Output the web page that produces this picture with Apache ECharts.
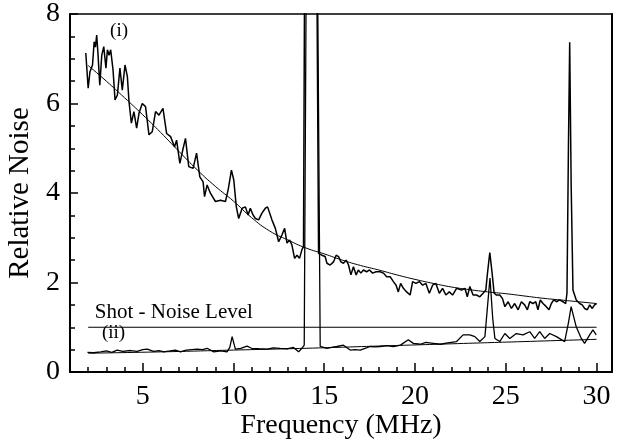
<!DOCTYPE html>
<html>
<head>
<meta charset="utf-8">
<script src="https://cdn.jsdelivr.net/npm/echarts@6/dist/echarts.min.js"></script>
<style>
  html, body { margin: 0; padding: 0; background: #fff; }
  #chart { width: 619px; height: 444px; }
</style>
</head>
<body>
<div id="chart"></div>
<script>
// trace (i): noise spectrum, upper curve
const freqI = [1.87, 2.0, 2.1, 2.24, 2.33, 2.4, 2.47, 2.54, 2.64, 2.75, 2.86, 2.98, 3.06, 3.15, 3.24, 3.37, 3.48, 3.61, 3.75, 3.88,
  4.03, 4.16, 4.25, 4.38, 4.52, 4.67, 4.8, 4.98, 5.16, 5.35, 5.53, 5.71, 5.9, 6.12, 6.32, 6.54, 6.76, 6.87, 7.05, 7.21,
  7.36, 7.54, 7.78, 7.97, 8.15, 8.33, 8.41, 8.55, 8.74, 9.01, 9.29, 9.56, 9.71, 9.89, 10.02, 10.16, 10.29, 10.48, 10.66, 10.81,
  10.93, 11.08, 11.21, 11.39, 11.57, 11.76, 11.88, 11.99, 12.12, 12.31, 12.49, 12.67, 12.82, 12.95, 13.09, 13.22, 13.37, 13.5, 13.64, 13.77,
  13.86, 13.95, 14.55, 14.69, 14.87, 15.05, 15.15, 15.33, 15.51, 15.66, 15.79, 15.92, 16.06, 16.21, 16.34, 16.47, 16.61, 16.76, 16.88, 17.02,
  17.16, 17.34, 17.49, 17.67, 17.86, 18.08, 18.26, 18.44, 18.63, 18.81, 18.96, 19.08, 19.21, 19.36, 19.54, 19.73, 19.87, 20.05, 20.24, 20.42,
  20.6, 20.79, 20.97, 21.15, 21.34, 21.52, 21.7, 21.89, 22.07, 22.29, 22.56, 22.75, 22.88, 23.02, 23.2, 23.39, 23.57, 23.75, 23.9, 23.99,
  24.12, 24.25, 24.36, 24.49, 24.67, 24.82, 24.95, 25.13, 25.31, 25.49, 25.68, 25.86, 26.04, 26.19, 26.32, 26.5, 26.65, 26.77, 26.9, 27.05,
  27.23, 27.38, 27.51, 27.64, 27.79, 27.97, 28.15, 28.3, 28.37, 28.45, 28.52, 28.6, 28.7, 28.88, 29.07, 29.21, 29.34, 29.49, 29.62, 29.76,
  29.89, 30.0];
const noiseI = [7.13, 6.34, 6.71, 6.86, 7.38, 7.26, 7.53, 7.12, 6.41, 7.08, 7.27, 6.79, 7.2, 7.08, 7.2, 6.75, 6.08, 6.19, 6.79, 6.3,
  6.86, 6.6, 6.04, 5.56, 5.82, 5.45, 5.78, 6.0, 5.93, 5.3, 5.37, 5.82, 5.74, 5.89, 5.33, 5.26, 5.03, 5.18, 4.66, 4.96,
  5.22, 4.59, 4.55, 4.89, 4.36, 4.25, 3.92, 4.18, 3.99, 3.81, 3.84, 3.81, 4.07, 4.51, 4.29, 3.69, 3.43, 3.66, 3.69, 3.51,
  3.66, 3.51, 3.43, 3.4, 3.55, 3.66, 3.69, 3.73, 3.4, 3.21, 2.91, 3.06, 3.21, 2.88, 2.95, 2.84, 2.54, 2.61, 2.54, 2.73,
  2.8, 12, 12, 2.65, 2.61, 2.58, 2.43, 2.39, 2.46, 2.61, 2.58, 2.46, 2.43, 2.5, 2.39, 2.17, 2.35, 2.17, 2.28, 2.21,
  2.28, 2.24, 2.28, 2.21, 2.24, 2.24, 2.21, 2.13, 2.13, 2.02, 1.94, 1.79, 1.98, 1.87, 1.79, 1.72, 2.02, 1.98, 2.02, 1.94,
  1.98, 1.76, 1.94, 1.98, 1.76, 1.87, 1.72, 1.79, 1.72, 1.87, 1.83, 1.87, 1.68, 1.91, 1.72, 1.72, 1.68, 1.76, 1.83, 2.2,
  2.67, 2.2, 1.76, 1.72, 1.72, 1.64, 1.46, 1.57, 1.42, 1.53, 1.39, 1.57, 1.5, 1.39, 1.57, 1.53, 1.57, 1.39, 1.61, 1.53,
  1.46, 1.39, 1.53, 1.61, 1.57, 1.61, 1.57, 1.53, 1.76, 5.0, 7.37, 4.2, 1.83, 1.61, 1.53, 1.5, 1.42, 1.39, 1.5, 1.42,
  1.5, 1.53];

// smooth fit through trace (i)
const fitFreqI = [2, 3, 4, 5, 6, 7, 8, 9, 10, 11, 12, 13, 14, 15, 16, 17, 18, 19, 20, 21, 22, 23, 24, 25, 26, 27, 28, 29, 30];
const fitI = [6.85, 6.5, 6.13, 5.75, 5.35, 4.93, 4.52, 4.15, 3.82, 3.45, 3.15, 2.95, 2.77, 2.64, 2.5, 2.38, 2.28, 2.17, 2.07, 1.98,
  1.9, 1.84, 1.79, 1.75, 1.7, 1.65, 1.61, 1.57, 1.53];

// trace (ii): squeezed noise, lower curve
const freqII = [1.96, 2.3, 2.69, 3.0, 3.3, 3.6, 3.9, 4.34, 4.7, 5.0, 5.26, 5.6, 5.9, 6.17, 6.5, 6.8, 7.09, 7.4, 7.7, 8.0,
  8.3, 8.55, 8.92, 9.3, 9.65, 9.8, 9.93, 10.05, 10.11, 10.4, 10.75, 11.0, 11.4, 11.85, 12.2, 12.58, 13.0, 13.31, 13.59, 13.77,
  13.9, 14.05, 14.58, 14.78, 15.15, 15.4, 15.7, 16.06, 16.43, 16.7, 16.98, 17.25, 17.53, 17.8, 18.08, 18.45, 18.81, 19.2, 19.63, 19.91,
  20.3, 20.6, 21.0, 21.4, 21.8, 22.29, 22.65, 23.02, 23.3, 23.57, 23.85, 23.98, 24.13, 24.28, 24.4, 24.67, 24.95, 25.22, 25.58, 25.95,
  26.32, 26.59, 26.87, 27.14, 27.42, 27.79, 28.24, 28.45, 28.6, 28.88, 29.16, 29.34, 29.62, 29.8, 29.98];
const noiseII = [0.44, 0.43, 0.45, 0.47, 0.44, 0.49, 0.46, 0.48, 0.46, 0.5, 0.51, 0.46, 0.48, 0.45, 0.47, 0.49, 0.45, 0.49, 0.5, 0.51,
  0.5, 0.53, 0.45, 0.47, 0.45, 0.55, 0.79, 0.6, 0.51, 0.53, 0.58, 0.53, 0.52, 0.51, 0.54, 0.53, 0.52, 0.55, 0.45, 0.53,
  0.6, 12, 12, 0.57, 0.53, 0.55, 0.57, 0.6, 0.49, 0.5, 0.49, 0.53, 0.57, 0.56, 0.57, 0.59, 0.57, 0.6, 0.72, 0.64,
  0.62, 0.66, 0.64, 0.62, 0.65, 0.68, 0.83, 0.83, 0.79, 0.68, 0.79, 1.4, 2.1, 1.2, 0.75, 0.68, 0.86, 0.75, 0.86, 0.83,
  0.9, 0.75, 0.9, 0.75, 0.86, 0.79, 0.68, 1.1, 1.46, 1.01, 0.75, 0.64, 0.83, 0.94, 0.83];

// fit through trace (ii)
const fitFreqII = [2, 6, 10, 14, 18, 22, 26, 30];
const fitII = [0.42, 0.45, 0.49, 0.53, 0.58, 0.63, 0.68, 0.73];

// shot-noise reference
const shotFreq = [2, 30];
const shotLevel = [1, 1];

const xMin = 1;
const xMax = 30.85;

const zip = (xs, ys) => xs.map((x, i) => [x, ys[i]]);
const serif = "'Liberation Serif', 'DejaVu Serif', serif";

const chart = echarts.init(document.getElementById('chart'));

// plot box
const plotLeft = 70, plotRight = 7, plotTop = 14, plotBottom = 72;
const plotWidth = 619 - plotLeft - plotRight;
// second grid starts at x = 0 so that major ticks count from a multiple of 5
const pxPerUnit = plotWidth / (xMax - xMin);
const majorLeft = plotLeft - xMin * pxPerUnit;

const black = '#000';

const lineBase = {
  type: 'line',
  showSymbol: false,
  symbol: 'none',
  clip: true,
  silent: true,
  color: black
};

function note(text, coord, size) {
  return {
    symbol: 'rect',
    symbolSize: 1,
    silent: true,
    itemStyle: { color: 'rgba(0,0,0,0)' },
    data: [{ coord: coord, value: text }],
    label: {
      show: true,
      position: 'inside',
      formatter: text,
      color: black,
      fontFamily: serif,
      fontSize: size
    }
  };
}

// bare frame line along the top / right of the plot
function frameAxis(extra) {
  return Object.assign({
    type: 'value',
    gridIndex: 0,
    z: 5,
    axisLine: { show: true, onZero: false, lineStyle: { color: black, width: 1.5 } },
    axisTick: { show: false },
    axisLabel: { show: false },
    splitLine: { show: false }
  }, extra);
}

chart.setOption({
  animation: false,
  backgroundColor: '#fff',
  grid: [
    { left: plotLeft, right: plotRight, top: plotTop, bottom: plotBottom, outerBoundsMode: 'none', show: false },
    { left: majorLeft, right: plotRight, top: plotTop, bottom: plotBottom, outerBoundsMode: 'none', show: false }
  ],
  xAxis: [
    {
      type: 'value',
      gridIndex: 0,
      position: 'bottom',
      z: 5,
      min: xMin,
      max: xMax,
      interval: 1,
      name: 'Frequency (MHz)',
      nameLocation: 'middle',
      nameGap: 40,
      nameTextStyle: { fontFamily: serif, fontSize: 28, color: black },
      axisLine: { show: true, onZero: false, lineStyle: { color: black, width: 2 } },
      axisTick: { show: true, inside: true, length: 5, lineStyle: { color: black, width: 1.5 } },
      axisLabel: { show: false },
      splitLine: { show: false }
    },
    {
      type: 'value',
      gridIndex: 1,
      position: 'bottom',
      z: 5,
      min: 0,
      max: xMax,
      interval: 5,
      axisLine: { show: false, onZero: false },
      axisTick: { show: true, inside: true, length: 9, lineStyle: { color: black, width: 1.5 } },
      axisLabel: {
        show: true,
        showMinLabel: false,
        formatter: v => (v >= 5 && v <= 30 ? String(v) : ''),
        fontFamily: serif, fontSize: 28, color: black, margin: 11
      },
      splitLine: { show: false }
    },
    frameAxis({ position: 'top', min: xMin, max: xMax })
  ],
  yAxis: [
    {
      type: 'value',
      gridIndex: 0,
      position: 'left',
      z: 5,
      min: 0,
      max: 8,
      interval: 2,
      name: 'Relative Noise',
      nameLocation: 'middle',
      nameGap: 27,
      nameTextStyle: { fontFamily: serif, fontSize: 29, color: black },
      axisLine: { show: true, onZero: false, lineStyle: { color: black, width: 2 } },
      axisTick: { show: true, inside: true, length: 8, lineStyle: { color: black, width: 1.5 } },
      minorTick: { show: true, splitNumber: 4, length: 5, lineStyle: { color: black, width: 1.5 } },
      axisLabel: { fontFamily: serif, fontSize: 28, color: black, margin: 10 },
      splitLine: { show: false }
    },
    { type: 'value', gridIndex: 1, min: 0, max: 8, show: false },
    frameAxis({ position: 'right', min: 0, max: 8, axisLine: { show: true, onZero: false, lineStyle: { color: black, width: 2 } } })
  ],
  series: [
    Object.assign({}, lineBase, {
      name: 'trace i',
      data: zip(freqI, noiseI),
      lineStyle: { color: black, width: 1.5 },
      markPoint: note('(i)', [3.7, 7.62], 19)
    }),
    Object.assign({}, lineBase, {
      name: 'fit i',
      data: zip(fitFreqI, fitI),
      smooth: true,
      lineStyle: { color: black, width: 1 }
    }),
    Object.assign({}, lineBase, {
      name: 'trace ii',
      data: zip(freqII, noiseII),
      lineStyle: { color: black, width: 1.3 },
      markPoint: note('(ii)', [3.4, 0.87], 19)
    }),
    Object.assign({}, lineBase, {
      name: 'fit ii',
      data: zip(fitFreqII, fitII),
      smooth: true,
      lineStyle: { color: black, width: 1 }
    }),
    Object.assign({}, lineBase, {
      name: 'shot noise',
      data: zip(shotFreq, shotLevel),
      lineStyle: { color: black, width: 1.2 },
      markPoint: note('Shot - Noise Level', [6.72, 1.32], 21)
    })
  ]
});
</script>
</body>
</html>
